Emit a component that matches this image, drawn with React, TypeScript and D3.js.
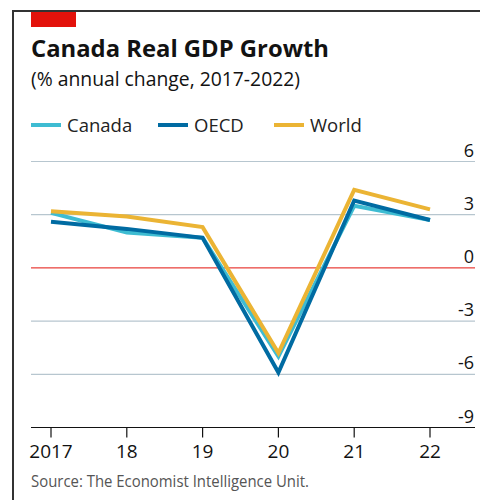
import React from "react";
import * as d3 from "d3";

const years = [2017, 2018, 2019, 2020, 2021, 2022];
const yearLabels = ["2017", "18", "19", "20", "21", "22"];
const canada = [3.1, 2.0, 1.7, -5.0, 3.5, 2.7];
const oecd = [2.6, 2.2, 1.7, -5.9, 3.8, 2.7];
const world = [3.2, 2.9, 2.3, -4.8, 4.4, 3.3];
const yTicks = [6, 3, 0, -3, -6, -9];
const seriesNames = ["Canada", "OECD", "World"];
const seriesColors = ["#3EBCD2", "#006BA2", "#EBB434"];

const W = 480;
const H = 500;
const FONT = "'Open Sans', 'Noto Sans', sans-serif";

export default function App() {
  const x = d3.scaleLinear().domain([2017, 2022]).range([51, 430]);
  const y = d3.scaleLinear().domain([-9, 6]).range([427.5, 161.5]);
  const line = d3
    .line<number>()
    .x((_, i) => x(years[i]))
    .y((d) => y(d));
  const series = [canada, oecd, world];
  const legendX = [31, 158, 274];

  return (
    <svg
      width={W}
      height={H}
      style={{ position: "absolute", left: 0, top: 0, background: "#fff" }}
      fontFamily={FONT}
    >
      <rect x={0} y={0} width={W} height={H} fill="#fff" />
      {/* frame */}
      <line x1={12} y1={11} x2={W} y2={11} stroke="#333" strokeWidth={2} />
      <line x1={13} y1={10} x2={13} y2={H} stroke="#333" strokeWidth={2} />
      <rect x={31} y={12} width={45} height={15} fill="#E3120B" />
      <text x={31} y={57} fontSize={24} fontWeight={700} fill="#121212" textLength={298} lengthAdjust="spacingAndGlyphs">
        Canada Real GDP Growth
      </text>
      <text x={31} y={86} fontSize={19.5} fill="#121212" textLength={269} lengthAdjust="spacingAndGlyphs">
        (% annual change, 2017-2022)
      </text>
      {/* legend */}
      {seriesNames.map((n, i) => (
        <g key={n}>
          <line
            x1={legendX[i]}
            x2={legendX[i] + 30}
            y1={125}
            y2={125}
            stroke={seriesColors[i]}
            strokeWidth={4}
          />
          <text x={legendX[i] + 36} y={132} fontSize={18.5} fill="#222">
            {n}
          </text>
        </g>
      ))}
      {/* gridlines */}
      {yTicks.map((t) => (
        <g key={t}>
          {t !== -9 && (
            <line
              x1={31}
              x2={475}
              y1={y(t)}
              y2={y(t)}
              stroke={t === 0 ? "#E3120B" : "#B7C6CF"}
              strokeWidth={t === 0 ? 1 : 1.2}
            />
          )}
          <text
            x={474}
            y={y(t) - 5}
            textAnchor="end"
            fontSize={18}
            fill="#121212"
          >
            {t}
          </text>
        </g>
      ))}
      {/* x axis */}
      <line x1={31} x2={475} y1={y(-9)} y2={y(-9)} stroke="#121212" strokeWidth={1.2} />
      {years.map((yr, i) => (
        <g key={yr}>
          <line
            x1={x(yr)}
            x2={x(yr)}
            y1={y(-9)}
            y2={y(-9) + 10}
            stroke="#121212"
            strokeWidth={1.2}
          />
          <text
            x={x(yr)}
            y={458}
            textAnchor="middle"
            fontSize={19}
            fill="#121212"
          >
            {yearLabels[i]}
          </text>
        </g>
      ))}
      {/* lines */}
      {series.map((s, i) => (
        <path
          key={i}
          d={line(s) || ""}
          fill="none"
          stroke={seriesColors[i]}
          strokeWidth={4}
          strokeLinejoin="miter"
        />
      ))}
      <text x={31} y={487} fontSize={16} fill="#555" textLength={278} lengthAdjust="spacingAndGlyphs">
        Source: The Economist Intelligence Unit.
      </text>
    </svg>
  );
}
